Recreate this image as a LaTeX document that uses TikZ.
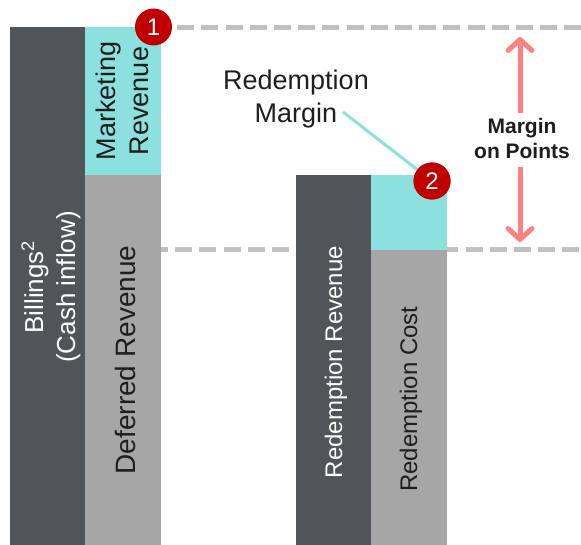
\documentclass[tikz,border=0pt]{standalone}
\usepackage{fontspec}
\setmainfont{Liberation Sans}
\usetikzlibrary{arrows.meta}
\definecolor{darkbar}{RGB}{81,84,88}
\definecolor{cyanbar}{RGB}{140,224,222}
\definecolor{graybar}{RGB}{166,166,166}
\definecolor{dashgray}{RGB}{192,192,192}
\definecolor{badgered}{RGB}{192,0,0}
\definecolor{pinkarrow}{RGB}{255,128,128}
\definecolor{txt}{RGB}{30,30,30}
\begin{document}
\begin{tikzpicture}[x=1pt,y=-1pt,
  barbox/.style={anchor=north west, inner sep=0pt, outer sep=0pt, draw=none},
  bartext/.style={rotate=90, align=center, inner sep=0pt},
  bigfont/.style={font=\fontsize{27}{33}\selectfont},
  midfont/.style={font=\fontsize{24}{28}\selectfont},
  badge/.style={circle, fill=badgered, text=white, minimum size=37pt, inner sep=0pt, font=\fontsize{24}{24}\selectfont},
  guide/.style={draw=dashgray, line width=5pt, dash pattern=on 17pt off 7.2pt},
  marginarrow/.style={draw=pinkarrow, line width=5pt, -{Straight Barb[length=11pt,width=24pt,round]}},
  leader/.style={draw=cyanbar, line width=3pt}
]
\fill[white] (0,0) rectangle (581,545);
\useasboundingbox (0,0) rectangle (581,545);

% guide lines
\coordinate (gTopL) at (153,28);
\coordinate (gTopR) at (581,28);
\coordinate (gBotL) at (151,250);
\coordinate (gBotR) at (581,250);
\draw[guide] (gTopL) -- (gTopR);
\draw[guide] (gBotL) -- (gBotR);

% bars
\node[barbox, fill=darkbar, minimum width=75pt, minimum height=518pt] (bill) at (10,27) {};
\node[barbox, fill=cyanbar, minimum width=76pt, minimum height=148pt] (mkt) at (85,27) {};
\node[barbox, fill=graybar, minimum width=76pt, minimum height=370pt] (defr) at (85,175) {};
\node[barbox, fill=darkbar, minimum width=75pt, minimum height=370pt] (rrev) at (296,175) {};
\node[barbox, fill=cyanbar, minimum width=76pt, minimum height=75pt] (rmar) at (371,175) {};
\node[barbox, fill=graybar, minimum width=76pt, minimum height=295pt] (rcost) at (371,250) {};

% bar texts
\node[bartext, font=\fontsize{26}{32}\selectfont, text=white] (billT) at (51,287) {Billings\textsuperscript{2}\\(Cash inflow)};
\node[bartext, bigfont, text=txt] (mktT) at (122,101) {Marketing\\Revenue};
\node[bartext, font=\fontsize{28}{32}\selectfont, text=txt] (defT) at (125,360) {Deferred Revenue};
\node[bartext, midfont, text=white] (rrevT) at (336,362) {Redemption Revenue};
\node[bartext, midfont, text=txt] (rcostT) at (411,399) {Redemption Cost};

% redemption margin label and leader
\node[align=center, bigfont, text=txt, inner sep=0pt] (rmlab) at (296,99) {Redemption\\Margin};
\coordinate (leadStart) at (343,112);
\node[badge] (b2) at (432,181) {2};
\draw[leader] (leadStart) -- (b2);
\node[badge] (b2top) at (432,181) {2};

\node[badge] (b1) at (153.5,27) {1};

% margin on points
\node[align=center, font=\bfseries\fontsize{21}{25}\selectfont, text=txt, inner sep=0pt] (mop) at (522,138) {Margin\\on Points};
\coordinate (upTail) at (520,113);
\coordinate (upTip) at (520,37);
\coordinate (dnTail) at (520,167);
\coordinate (dnTip) at (520,242);
\draw[marginarrow] (upTail) -- (upTip);
\draw[marginarrow] (dnTail) -- (dnTip);
\end{tikzpicture}
\end{document}
